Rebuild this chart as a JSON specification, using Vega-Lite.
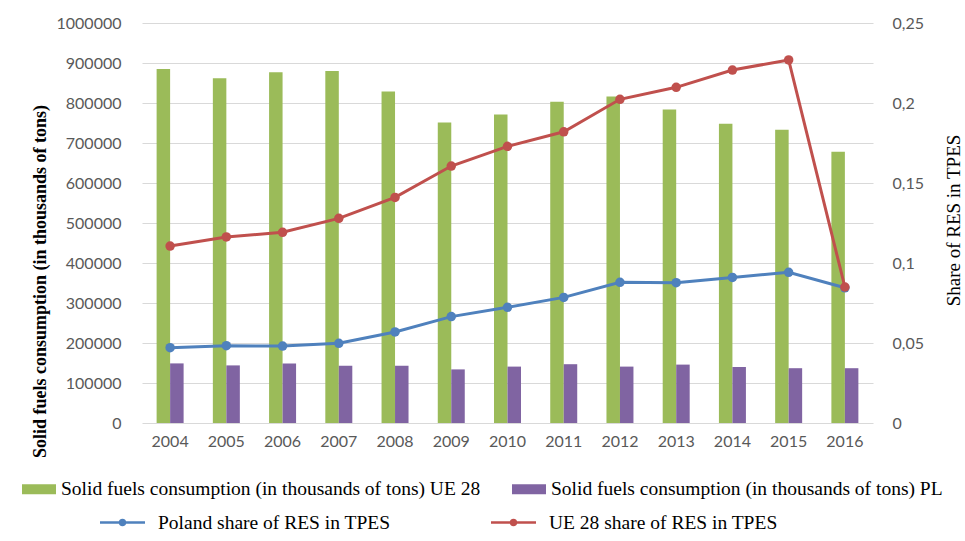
{
  "$schema": "https://vega.github.io/schema/vega-lite/v6.json",
  "width": 731,
  "height": 400,
  "autosize": {"type": "none"},
  "padding": {"left": 142, "top": 23, "right": 92, "bottom": 118},
  "background": "white",
  "config": {
    "view": {"stroke": null},
    "font": "Liberation Serif",
    "axis": {"labelFont": "Lato", "labelFontSize": 16, "labelColor": "#595959", "ticks": false, "domain": false, "gridColor": "#D9D9D9", "gridWidth": 1},
    "legend": {"labelFont": "Liberation Serif", "labelFontSize": 19.5, "labelColor": "#000000", "labelLimit": 700, "padding": 0, "title": null}
  },
  "datasets": {
    "bars": [
      {"year": "2004", "series": "Solid fuels consumption (in thousands of tons) UE 28", "value": 885000},
      {"year": "2005", "series": "Solid fuels consumption (in thousands of tons) UE 28", "value": 862000},
      {"year": "2006", "series": "Solid fuels consumption (in thousands of tons) UE 28", "value": 877000},
      {"year": "2007", "series": "Solid fuels consumption (in thousands of tons) UE 28", "value": 880000},
      {"year": "2008", "series": "Solid fuels consumption (in thousands of tons) UE 28", "value": 829000},
      {"year": "2009", "series": "Solid fuels consumption (in thousands of tons) UE 28", "value": 751000},
      {"year": "2010", "series": "Solid fuels consumption (in thousands of tons) UE 28", "value": 771000},
      {"year": "2011", "series": "Solid fuels consumption (in thousands of tons) UE 28", "value": 803000},
      {"year": "2012", "series": "Solid fuels consumption (in thousands of tons) UE 28", "value": 816000},
      {"year": "2013", "series": "Solid fuels consumption (in thousands of tons) UE 28", "value": 784000},
      {"year": "2014", "series": "Solid fuels consumption (in thousands of tons) UE 28", "value": 748000},
      {"year": "2015", "series": "Solid fuels consumption (in thousands of tons) UE 28", "value": 733000},
      {"year": "2016", "series": "Solid fuels consumption (in thousands of tons) UE 28", "value": 678000},
      {"year": "2004", "series": "Solid fuels consumption (in thousands of tons) PL", "value": 149000},
      {"year": "2005", "series": "Solid fuels consumption (in thousands of tons) PL", "value": 144000},
      {"year": "2006", "series": "Solid fuels consumption (in thousands of tons) PL", "value": 149000},
      {"year": "2007", "series": "Solid fuels consumption (in thousands of tons) PL", "value": 143000},
      {"year": "2008", "series": "Solid fuels consumption (in thousands of tons) PL", "value": 143000},
      {"year": "2009", "series": "Solid fuels consumption (in thousands of tons) PL", "value": 134000},
      {"year": "2010", "series": "Solid fuels consumption (in thousands of tons) PL", "value": 141000},
      {"year": "2011", "series": "Solid fuels consumption (in thousands of tons) PL", "value": 147000},
      {"year": "2012", "series": "Solid fuels consumption (in thousands of tons) PL", "value": 141000},
      {"year": "2013", "series": "Solid fuels consumption (in thousands of tons) PL", "value": 146000},
      {"year": "2014", "series": "Solid fuels consumption (in thousands of tons) PL", "value": 140000},
      {"year": "2015", "series": "Solid fuels consumption (in thousands of tons) PL", "value": 137000},
      {"year": "2016", "series": "Solid fuels consumption (in thousands of tons) PL", "value": 137000}
    ],
    "lines": [
      {"year": "2004", "series": "Poland share of RES in TPES", "value": 0.0471},
      {"year": "2005", "series": "Poland share of RES in TPES", "value": 0.0483},
      {"year": "2006", "series": "Poland share of RES in TPES", "value": 0.0481},
      {"year": "2007", "series": "Poland share of RES in TPES", "value": 0.0498},
      {"year": "2008", "series": "Poland share of RES in TPES", "value": 0.0569},
      {"year": "2009", "series": "Poland share of RES in TPES", "value": 0.0665},
      {"year": "2010", "series": "Poland share of RES in TPES", "value": 0.0723},
      {"year": "2011", "series": "Poland share of RES in TPES", "value": 0.0785},
      {"year": "2012", "series": "Poland share of RES in TPES", "value": 0.0879},
      {"year": "2013", "series": "Poland share of RES in TPES", "value": 0.0877},
      {"year": "2014", "series": "Poland share of RES in TPES", "value": 0.091},
      {"year": "2015", "series": "Poland share of RES in TPES", "value": 0.0942},
      {"year": "2016", "series": "Poland share of RES in TPES", "value": 0.0845},
      {"year": "2004", "series": "UE 28 share of RES in TPES", "value": 0.1106},
      {"year": "2005", "series": "UE 28 share of RES in TPES", "value": 0.1163},
      {"year": "2006", "series": "UE 28 share of RES in TPES", "value": 0.1192},
      {"year": "2007", "series": "UE 28 share of RES in TPES", "value": 0.1279},
      {"year": "2008", "series": "UE 28 share of RES in TPES", "value": 0.141},
      {"year": "2009", "series": "UE 28 share of RES in TPES", "value": 0.1606},
      {"year": "2010", "series": "UE 28 share of RES in TPES", "value": 0.1729},
      {"year": "2011", "series": "UE 28 share of RES in TPES", "value": 0.182},
      {"year": "2012", "series": "UE 28 share of RES in TPES", "value": 0.2023},
      {"year": "2013", "series": "UE 28 share of RES in TPES", "value": 0.2098},
      {"year": "2014", "series": "UE 28 share of RES in TPES", "value": 0.2206},
      {"year": "2015", "series": "UE 28 share of RES in TPES", "value": 0.2269},
      {"year": "2016", "series": "UE 28 share of RES in TPES", "value": 0.085}
    ]
  },
  "layer": [
    {
      "data": {"name": "bars"},
      "mark": {"type": "bar"},
      "encoding": {
        "x": {
          "field": "year", "type": "nominal",
          "scale": {"paddingInner": 0.52, "paddingOuter": 0.26},
          "axis": {"title": null, "labelAngle": 0, "labelPadding": 10, "grid": false}
        },
        "xOffset": {
          "field": "series", "type": "nominal",
          "scale": {"domain": ["Solid fuels consumption (in thousands of tons) UE 28", "Solid fuels consumption (in thousands of tons) PL"], "paddingInner": 0, "paddingOuter": 0}
        },
        "y": {
          "field": "value", "type": "quantitative",
          "scale": {"domain": [0, 1000000], "nice": false},
          "axis": {
            "values": [0, 100000, 200000, 300000, 400000, 500000, 600000, 700000, 800000, 900000, 1000000],
            "format": "d", "labelPadding": 21, "grid": true,
            "title": "Solid fuels consumption (in thousands of tons)",
            "titleFont": "Liberation Serif", "titleFontSize": 18, "titleFontWeight": "bold", "titleColor": "#000000",
            "titleAngle": -90, "titleX": -102, "titleY": 258, "titleAlign": "center", "titleBaseline": "middle"
          }
        },
        "color": {
          "field": "series", "type": "nominal",
          "scale": {"domain": ["Solid fuels consumption (in thousands of tons) UE 28", "Solid fuels consumption (in thousands of tons) PL"], "range": ["#9BBB59", "#8064A2"]},
          "legend": {
            "orient": "none", "direction": "horizontal", "legendX": -120, "legendY": 449,
            "symbolType": "M-1,-0.3H1V0.3H-1Z", "symbolSize": 1156, "symbolStrokeWidth": 0,
            "labelOffset": 5, "columnPadding": 31
          }
        }
      }
    },
    {
      "data": {"name": "lines"},
      "encoding": {
        "x": {"field": "year", "type": "nominal"},
        "y": {
          "field": "value", "type": "quantitative",
          "scale": {"domain": [0, 0.25], "nice": false},
          "axis": {
            "orient": "right",
            "values": [0, 0.05, 0.1, 0.15, 0.2, 0.25],
            "labelExpr": "replace(format(datum.value, '.2~f'), '.', ',')",
            "labelPadding": 19, "grid": false,
            "title": "Share of RES in TPES",
            "titleFont": "Liberation Serif", "titleFontSize": 19, "titleFontWeight": "normal", "titleColor": "#000000",
            "titleAngle": -90, "titleX": 80, "titleY": 197, "titleAlign": "center", "titleBaseline": "middle"
          }
        },
        "color": {
          "field": "series", "type": "nominal",
          "scale": {"domain": ["Poland share of RES in TPES", "UE 28 share of RES in TPES"], "range": ["#4F81BD", "#C0504D"]},
          "legend": {
            "orient": "none", "direction": "horizontal", "legendX": -42, "legendY": 477,
            "symbolType": "M-1,-0.06H1V0.06H-1Z M0.17,0A0.17,0.17 0 1 1 -0.17,0A0.17,0.17 0 1 1 0.17,0Z",
            "symbolSize": 2025, "symbolStrokeWidth": 0, "symbolOpacity": 1,
            "labelOffset": 13, "columnPadding": 100
          }
        }
      },
      "layer": [
        {"mark": {"type": "line", "strokeWidth": 3}},
        {"mark": {"type": "point", "filled": true, "size": 90, "opacity": 1}}
      ]
    }
  ],
  "resolve": {"scale": {"y": "independent", "color": "independent"}, "legend": {"color": "independent"}}
}
